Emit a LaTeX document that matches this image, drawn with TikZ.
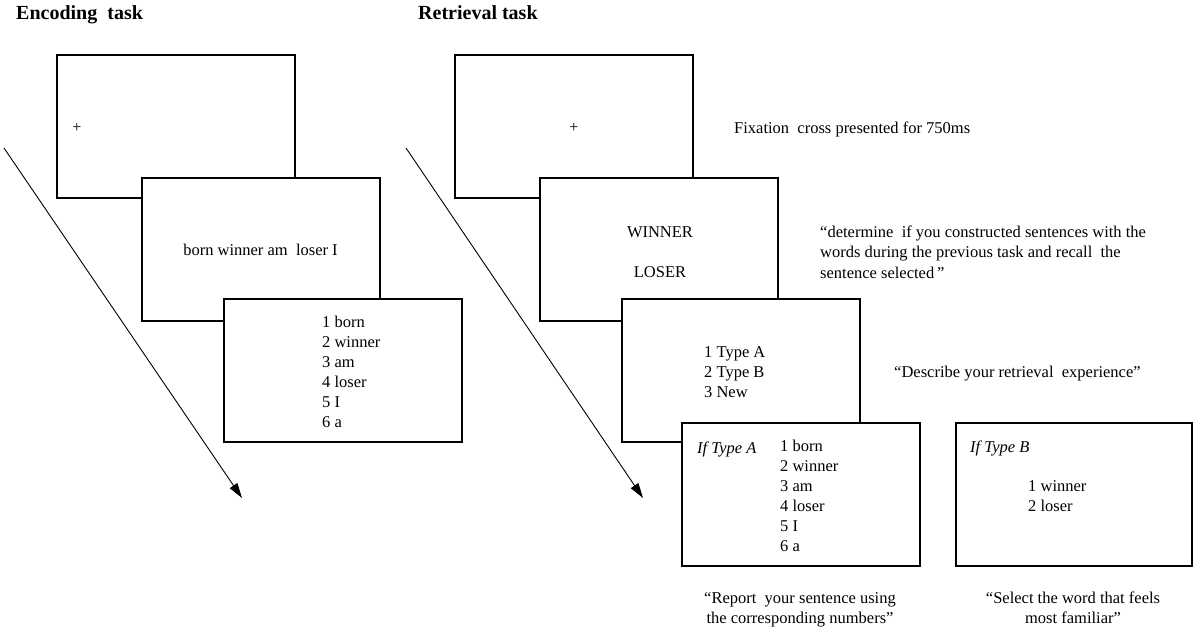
\documentclass[tikz,border=0pt]{standalone}
\usepackage{fontspec}
\setmainfont{Liberation Serif}
\usetikzlibrary{arrows.meta}
\begin{document}
\begin{tikzpicture}[x=1pt,y=-1pt,
  screen/.style={draw=black, line width=2pt, fill=white, minimum width=238pt, minimum height=143pt, inner sep=0pt},
  txt/.style={inner sep=0pt, font=\fontsize{16.5}{20}\selectfont},
  lw/.style={txt, anchor=base west},
  lc/.style={txt, anchor=base},
  plus/.style={inner sep=0pt, font=\fontsize{16}{18}\selectfont},
  title/.style={inner sep=0pt, anchor=base west, font=\bfseries\fontsize{20}{24}\selectfont},
  flow/.style={draw=black, line width=0.9pt, -{Triangle[length=15pt,width=9pt]}}
]
\useasboundingbox (0,0) rectangle (1194,628);

% titles
\node[title] (tenc) at (16,20) {Encoding\ \ task};
\node[title] (tret) at (418,20) {Retrieval task};

% ---------------- Encoding task ----------------
\coordinate (ea0) at (4,148);
\coordinate (ea1) at (242,498);
\draw[flow] (ea0) -- (ea1);

\node[screen] (e1) at (176,127) {};
\node[plus] (eplus) at (77,128) {+};
\node[screen] (e2) at (260.5,249.5) {};
\node[lc] (ewords) at (260.5,256) {born winner am\ \ loser I};
\node[screen] (e3) at (342.5,370.5) {};
\foreach \t [count=\i] in {1 born,2 winner,3 am,4 loser,5 I,6 a}
  \node[lw] (el\i) at (322,{327.5+20*(\i-1)}) {\t};

% ---------------- Retrieval task ----------------
\coordinate (ra0) at (406,148);
\coordinate (ra1) at (643,498);
\draw[flow] (ra0) -- (ra1);

\node[screen] (r1) at (574,127) {};
\node[plus] (rplus) at (574,128) {+};
\node[lw] (fix) at (734,133.5) {Fixation\ \ cross presented for 750ms};

\node[screen] (r2) at (659,249.5) {};
\node[lc] (win) at (660,237.5) {WINNER};
\node[lc] (los) at (660,277.5) {LOSER};
\node[lw] (det1) at (820,237.5) {“determine\ \ if you constructed sentences with the};
\node[lw] (det2) at (820,258) {words\ during the previous task and recall\ \ the};
\node[lw] (det3) at (820,278.5) {sentence selected\,”};

\node[screen] (r3) at (741,370.5) {};
\foreach \t [count=\i] in {1 Type A,2 Type B,3 New}
  \node[lw] (ty\i) at (704,{357.5+20*(\i-1)}) {\t};
\node[lw] (desc) at (894,377.5) {“Describe your retrieval\ \ experience”};

\node[screen] (r4) at (800.5,494.5) {};
\node[lw] (ifa) at (697,453) {\itshape If Type A};
\foreach \t [count=\i] in {1 born,2 winner,3 am,4 loser,5 I,6 a}
  \node[lw] (al\i) at (780,{451.5+20*(\i-1)}) {\t};

\node[screen, minimum width=236pt] (r5) at (1074,494.5) {};
\node[lw] (ifb) at (970,452.5) {\itshape If Type B};
\node[lw] (b1) at (1028,491.5) {1 winner};
\node[lw] (b2) at (1028,511.5) {2 loser};

\node[lc] (rep1) at (800,603.5) {“Report\ \ your sentence using};
\node[lc] (rep2) at (800,623.5) {the corresponding numbers”};
\node[lc] (sel1) at (1073,603.5) {“Select the word that feels};
\node[lc] (sel2) at (1073,623.5) {most familiar”};
\end{tikzpicture}
\end{document}
